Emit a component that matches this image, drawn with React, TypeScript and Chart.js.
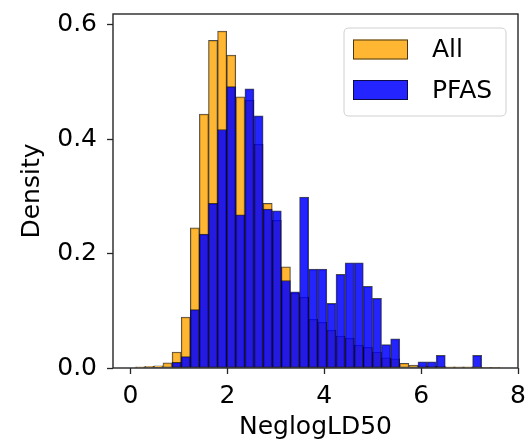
import React, { useEffect, useRef } from "react";
import { Chart, registerables } from "chart.js";

Chart.register(...registerables);

// Histogram bin centres (NeglogLD50), shared by both series
const binCenters = [
  0.201, 0.389, 0.577, 0.765, 0.953, 1.141, 1.329, 1.517, 1.705, 1.893,
  2.081, 2.269, 2.457, 2.645, 2.833, 3.021, 3.209, 3.397, 3.585, 3.773,
  3.961, 4.149, 4.337, 4.525, 4.713, 4.901, 5.089, 5.277, 5.465, 5.653,
  5.841, 6.029, 6.217, 6.405, 6.593, 6.781, 6.969, 7.157, 7.345, 7.533,
];

// Density of the "All" series
const allDensity = [
  0.002, 0.003, 0.004, 0.009, 0.028, 0.089, 0.245, 0.444, 0.573, 0.589,
  0.547, 0.474, 0.468, 0.391, 0.288, 0.258, 0.177, 0.131, 0.124, 0.085,
  0.08, 0.066, 0.056, 0.052, 0.04, 0.036, 0.028, 0.018, 0.016, 0.008,
  0.005, 0.004, 0.003, 0.003, 0.002, 0.002, 0.002, 0.002, 0.001, 0.001,
];

// Density of the "PFAS" series
const pfasDensity = [
  0, 0, 0, 0, 0.01, 0.02, 0.102, 0.234, 0.288, 0.417,
  0.492, 0.268, 0.488, 0.441, 0.278, 0.275, 0.153, 0.133, 0.299, 0.173,
  0.173, 0.113, 0.164, 0.184, 0.184, 0.143, 0.122, 0.041, 0.051, 0,
  0, 0.011, 0.011, 0.022, 0, 0, 0, 0.022, 0, 0,
];

const seriesLabels = ["All", "PFAS"];
const xTitle = "NeglogLD50";
const yTitle = "Density";

const FONT = "'DejaVu Sans', 'Liberation Sans', sans-serif";
const ALL_FILL = "rgba(255,165,0,0.8)";
const PFAS_FILL = "rgba(0,0,255,0.86)";
const EDGE = "rgba(0,0,0,0.7)";
const AXIS = "#262626";

const framePlugin = {
  id: "frame",
  afterDatasetsDraw(chart: any) {
    const { ctx, chartArea } = chart;
    ctx.save();
    ctx.strokeStyle = AXIS;
    ctx.lineWidth = 1.4;
    ctx.strokeRect(
      chartArea.left,
      chartArea.top,
      chartArea.right - chartArea.left,
      chartArea.bottom - chartArea.top
    );
    ctx.restore();
  },
};

const legendPlugin = {
  id: "boxLegend",
  afterDraw(chart: any) {
    const { ctx, chartArea } = chart;
    const bx = chartArea.right - 174;
    const by = chartArea.top + 14;
    const bw = 162;
    const bh = 88;
    ctx.save();
    ctx.beginPath();
    const r = 5;
    ctx.moveTo(bx + r, by);
    ctx.lineTo(bx + bw - r, by);
    ctx.quadraticCurveTo(bx + bw, by, bx + bw, by + r);
    ctx.lineTo(bx + bw, by + bh - r);
    ctx.quadraticCurveTo(bx + bw, by + bh, bx + bw - r, by + bh);
    ctx.lineTo(bx + r, by + bh);
    ctx.quadraticCurveTo(bx, by + bh, bx, by + bh - r);
    ctx.lineTo(bx, by + r);
    ctx.quadraticCurveTo(bx, by, bx + r, by);
    ctx.closePath();
    ctx.fillStyle = "rgba(255,255,255,0.8)";
    ctx.fill();
    ctx.strokeStyle = "#d0d0d0";
    ctx.lineWidth = 1;
    ctx.stroke();

    const ds = chart.data.datasets;
    const rows = [by + 21.5, by + 62];
    ds.forEach((d: any, i: number) => {
      const cy = rows[i];
      ctx.fillStyle = d.backgroundColor;
      ctx.fillRect(bx + 9, cy - 10, 55, 20);
      ctx.strokeStyle = EDGE;
      ctx.lineWidth = 1;
      ctx.strokeRect(bx + 9.5, cy - 9.5, 54, 19);
      ctx.fillStyle = "#000";
      ctx.font = `25px ${FONT}`;
      ctx.textAlign = "left";
      ctx.textBaseline = "middle";
      ctx.fillText(d.label, bx + 88, cy + 1);
    });
    ctx.restore();
  },
};

export default function App() {
  const ref = useRef<HTMLCanvasElement | null>(null);

  useEffect(() => {
    if (!ref.current) return;
    const chart = new Chart(ref.current, {
      type: "bar",
      data: {
        datasets: [
          {
            label: seriesLabels[0],
            data: binCenters.map((x, i) => ({ x, y: allDensity[i] })),
            backgroundColor: ALL_FILL,
            borderColor: EDGE,
            borderWidth: 1,
            order: 2,
          },
          {
            label: seriesLabels[1],
            data: binCenters.map((x, i) => ({ x, y: pfasDensity[i] })),
            backgroundColor: PFAS_FILL,
            borderColor: EDGE,
            borderWidth: 1,
            order: 1,
          },
        ],
      },
      options: {
        responsive: false,
        animation: false,
        devicePixelRatio: 1,
        datasets: {
          bar: {
            grouped: false,
            barPercentage: 1,
            categoryPercentage: 1,
            borderSkipped: false,
          },
        },
        layout: { padding: { left: 0, top: 14, right: 9, bottom: 0 } },
        plugins: {
          legend: { display: false },
          tooltip: { enabled: false },
        },
        scales: {
          x: {
            type: "linear",
            min: -0.36,
            max: 8.0,
            offset: false,
            grid: {
              display: true,
              offset: false,
              drawOnChartArea: false,
              drawTicks: true,
              tickLength: 6,
              tickColor: AXIS,
              tickWidth: 1.3,
            },
            border: { display: false },
            ticks: {
              stepSize: 2,
              includeBounds: false,
              padding: 7,
              color: "#000",
              font: { family: FONT, size: 25 },
              maxRotation: 0,
              autoSkip: false,
              callback: (v: any) => String(v),
            },
            title: {
              display: true,
              text: xTitle,
              color: "#000",
              font: { family: FONT, size: 25 },
              padding: { top: 0, bottom: 0 },
            },
            afterFit: (s: any) => {
              s.height = 74;
              s.paddingLeft = 0;
              s.paddingRight = 0;
            },
          },
          y: {
            type: "linear",
            min: 0,
            max: 0.619,
            grid: {
              display: true,
              drawOnChartArea: false,
              drawTicks: true,
              tickLength: 6,
              tickColor: AXIS,
              tickWidth: 1.3,
            },
            border: { display: false },
            ticks: {
              stepSize: 0.2,
              includeBounds: false,
              padding: 10,
              color: "#000",
              font: { family: FONT, size: 25 },
              callback: (v: any) => Number(v).toFixed(1),
            },
            title: {
              display: true,
              text: yTitle,
              color: "#000",
              font: { family: FONT, size: 25 },
              padding: { top: 17, bottom: 0 },
            },
            afterFit: (s: any) => {
              s.width = 113;
              s.paddingTop = 0;
              s.paddingBottom = 0;
            },
          },
        },
      },
      plugins: [framePlugin, legendPlugin],
    } as any);
    return () => chart.destroy();
  }, []);

  return (
    <div style={{ position: "fixed", left: 0, top: 0, width: 527, height: 442, background: "#fff" }}>
      <canvas ref={ref} width={527} height={442} style={{ display: "block" }} />
    </div>
  );
}
